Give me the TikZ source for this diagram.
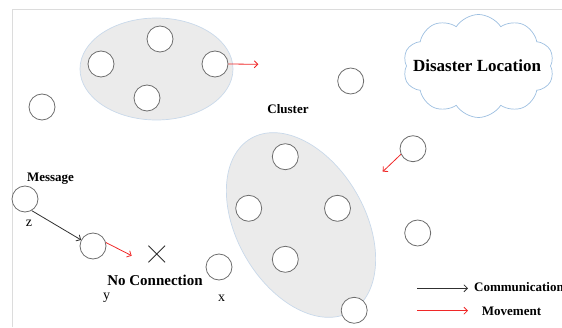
\documentclass[tikz,border=0pt]{standalone}
\usepackage{fontspec}
\setmainfont{Liberation Serif}
\usetikzlibrary{arrows.meta,shapes.symbols,calc}
\definecolor{clusterfill}{HTML}{EBEBEB}
\definecolor{clusteredge}{HTML}{C9D9EA}
\definecolor{cloudedge}{HTML}{9DBFE0}
\definecolor{nodeedge}{HTML}{6E6E6E}
\definecolor{moveclr}{HTML}{F02828}
\definecolor{commclr}{HTML}{303030}
\definecolor{frameclr}{HTML}{DCDCDC}
\tikzset{
  sensor/.style={circle, draw=nodeedge, fill=white, line width=0.8pt, minimum size=26pt, inner sep=0pt},
  clusterarea/.style={draw=clusteredge, fill=clusterfill, line width=0.7pt},
  label13/.style={font=\fontsize{13}{15}\selectfont\bfseries, inner sep=0pt},
  letter/.style={font=\fontsize{14}{16}\selectfont, inner sep=0pt},
  movearrow/.style={draw=moveclr, line width=0.8pt, -{Straight Barb[length=3.5pt,width=7pt]}},
  commarrow/.style={draw=commclr, line width=0.8pt, -{Straight Barb[length=3.5pt,width=7pt]}},
}
\begin{document}
\begin{tikzpicture}[x=1pt,y=1pt]
\useasboundingbox (0,0) rectangle (562,327);
% page frame
\draw[frameclr, line width=0.8pt] (12.7,0) -- (12.7,317.7) -- (562,317.7);

% upper cluster
\draw[clusterarea] (156.5,258) ellipse [x radius=76.5, y radius=51];
% lower (tilted) cluster
\draw[clusterarea, rotate around={30:(301,102)}] (301,102) ellipse [x radius=64, y radius=100];

% nodes of the upper cluster
\node[sensor] (a1) at (160,288) {};
\node[sensor] (a2) at (101,263) {};
\node[sensor] (a3) at (215,263) {};
\node[sensor] (a4) at (147,229) {};
\coordinate (a3move) at (258.3,262.7);
\draw[movearrow] (a3.east) -- (a3move);

% free nodes
\node[sensor] (f1) at (42,220) {};
\node[sensor] (f2) at (350.7,246) {};
\node[sensor] (f3) at (413,178.3) {};
\coordinate (f3move) at (382.7,155.3);
\draw[movearrow] (f3.205) -- (f3move);
\node[sensor] (f4) at (417.7,94) {};

\node[label13] (clusterlbl) at (288,218) {Cluster};

% disaster cloud
\node[cloud, draw=cloudedge, line width=0.7pt, cloud puffs=10, cloud puff arc=115, aspect=1.2,
      minimum width=151pt, minimum height=103pt, inner sep=0pt] (disaster) at (478.5,261) {};
\node[font=\fontsize{17}{19}\selectfont\bfseries, inner sep=0pt] (disasterlbl) at (477,261) {Disaster Location};

% nodes of the lower cluster
\node[sensor] (b1) at (285.3,170.3) {};
\node[sensor] (b2) at (248.7,118.7) {};
\node[sensor] (b3) at (337.5,118.7) {};
\node[sensor] (b4) at (285.3,67.7) {};
\node[sensor] (b5) at (354.2,16.7) {};

% message relay
\node[label13] (msg) at (50.5,148.5) {Message};
\node[sensor] (z) at (25,128) {};
\node[letter] (zl) at (29,104) {z};
\node[sensor] (y) at (93,81) {};
\node[letter] (yl) at (106.7,29) {y};
\draw[commarrow] (z.-60) -- (y.153);
\coordinate (ymove) at (131.7,71.3);
\draw[movearrow] (y.15) -- (ymove);

% broken link
\coordinate (nc) at (156.7,73);
\draw[line width=0.8pt, commclr] ($(nc)+(-8.3,-8.3)$) -- ($(nc)+(8.3,8.3)$)
                                 ($(nc)+(-8.3,8.3)$) -- ($(nc)+(8.3,-8.3)$);
\node[font=\fontsize{15}{17}\selectfont\bfseries, inner sep=0pt] (nclbl) at (155,47) {No Connection};
\node[sensor] (x) at (219,60) {};
\node[letter] (xl) at (221.7,29) {x};

% legend
\coordinate (lc1) at (417,38.7);
\coordinate (lc2) at (468,38.7);
\draw[commarrow] (lc1) -- (lc2);
\node[label13, anchor=west] (commlbl) at (474,39.5) {Communication};
\coordinate (lm1) at (417,16.3);
\coordinate (lm2) at (468,16.3);
\draw[movearrow] (lm1) -- (lm2);
\node[label13, anchor=west] (movelbl) at (481.7,15.5) {Movement};
\end{tikzpicture}
\end{document}
